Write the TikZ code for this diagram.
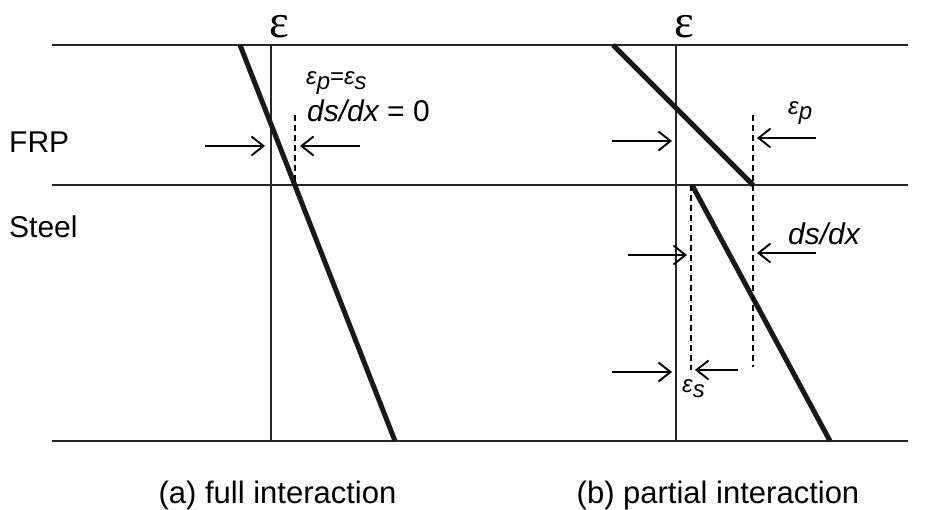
\documentclass[tikz,border=0pt]{standalone}
\usepackage{fontspec}
\setmainfont{Liberation Sans}
\newfontfamily\greekserif{Liberation Serif}
\usetikzlibrary{arrows.meta}
\begin{document}
\begin{tikzpicture}[x=1pt,y=-1pt,
  axisline/.style={line width=1.7pt, draw=black!85},
  strainline/.style={line width=5pt, draw=black!90},
  guide/.style={line width=1.5pt, dash pattern=on 6pt off 4pt},
  arr/.style={line width=1.9pt, -{Straight Barb[length=12pt,width=19pt,line width=1.9pt]}},
  big/.style={font=\fontsize{30}{34}\selectfont, inner sep=0pt},
  captxt/.style={font=\fontsize{31}{35}\selectfont, inner sep=0pt, anchor=base},
  sml/.style={font=\fontsize{24}{28}\selectfont\itshape, inner sep=0pt},
  eps/.style={font=\fontsize{47}{50}\selectfont\greekserif, inner sep=0pt, anchor=center}]
\useasboundingbox (0,0) rectangle (929,510);

% horizontal lines
\coordinate (tl) at (52,45);   \coordinate (tr) at (908,45);
\coordinate (ml) at (52,185);  \coordinate (mr) at (908,185);
\coordinate (bl) at (52,441);  \coordinate (br) at (908,441);
\draw[axisline] (tl) -- (tr);
\draw[axisline] (ml) -- (mr);
\draw[axisline] (bl) -- (br);

% vertical axes
\coordinate (va1) at (271,45); \coordinate (vb1) at (271,441);
\coordinate (va2) at (676,45); \coordinate (vb2) at (676,441);
\draw[axisline] (va1) -- (vb1);
\draw[axisline] (va2) -- (vb2);

% epsilon labels
\node[eps] (e1) at (279,27) {ε};
\node[eps] (e2) at (684,27) {ε};

% strain profiles
\coordinate (s1a) at (240,45);  \coordinate (s1b) at (395,441);
\coordinate (s2a) at (613,45);  \coordinate (s2b) at (753,185);
\coordinate (s3a) at (692,185); \coordinate (s3b) at (830,441);
\draw[strainline] (s1a) -- (s1b);
\draw[strainline] (s2a) -- (s2b);
\draw[strainline] (s3a) -- (s3b);

% dashed guides
\coordinate (d1a) at (295,115); \coordinate (d1b) at (295,185);
\coordinate (d2a) at (753,115); \coordinate (d2b) at (753,367);
\coordinate (d3a) at (691,185); \coordinate (d3b) at (691,370);
\draw[guide] (d1a) -- (d1b);
\draw[guide] (d2a) -- (d2b);
\draw[guide] (d3a) -- (d3b);

% arrows
\coordinate (a1s) at (205,146); \coordinate (a1e) at (265,146);
\coordinate (a2s) at (360,146); \coordinate (a2e) at (300,146);
\coordinate (a3s) at (612,141); \coordinate (a3e) at (672,141);
\coordinate (a4s) at (816,138); \coordinate (a4e) at (757,138);
\coordinate (a5s) at (628,255); \coordinate (a5e) at (687,255);
\coordinate (a6s) at (816,253); \coordinate (a6e) at (757,253);
\coordinate (a7s) at (612,372); \coordinate (a7e) at (672,372);
\coordinate (a8s) at (738,370); \coordinate (a8e) at (695,370);
\foreach \s/\e in {a1s/a1e,a2s/a2e,a3s/a3e,a4s/a4e,a5s/a5e,a6s/a6e,a7s/a7e,a8s/a8e}
  \draw[arr] (\s) -- (\e);

% labels
\node[big, anchor=base west] (frp) at (9,153) {FRP};
\node[big, anchor=base west] (steel) at (9,238) {Steel};
\node[sml, anchor=base west] (eqps) at (306,85) {ε\raisebox{-0.18em}{p}\upshape=\itshape ε\raisebox{-0.18em}{s}};
\node[big, anchor=base west] (dsdx0) at (307,122) {\itshape ds/dx\upshape{} = 0};
\node[sml, anchor=base west] (ep) at (788,115) {ε\raisebox{-0.18em}{p}};
\node[sml, anchor=base west] (es) at (682,393) {ε\raisebox{-0.18em}{s}};
\node[big, anchor=base west] (dsdx) at (788,245) {\itshape ds/dx};
\node[captxt] (capa) at (277.5,503) {(a) full interaction};
\node[captxt] (capb) at (718,503) {(b) partial interaction};
\end{tikzpicture}
\end{document}
